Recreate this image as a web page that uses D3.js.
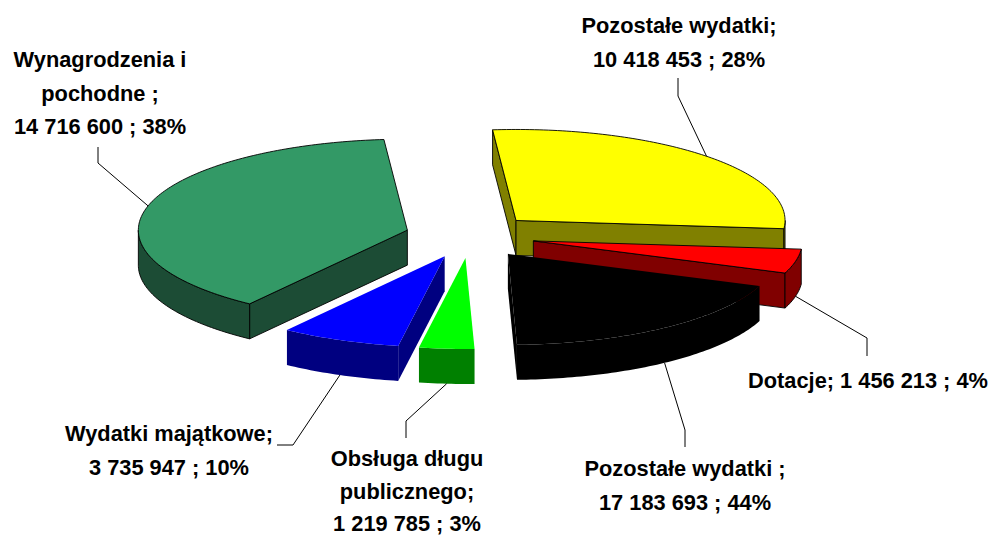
<!DOCTYPE html>
<html>
<head>
<meta charset="utf-8">
<script src="https://cdn.jsdelivr.net/npm/d3@7"></script>
<style>
body {margin:0; background:#fff;}
text {font-family:"Liberation Sans", Arial, sans-serif; font-weight:bold; font-size:21.8px; fill:#000;}
</style>
</head>
<body>
<svg id="chart"></svg>
<script>
var screen = {width:991, height:537};

// data
var categories = [["Pozostałe wydatki;"], ["Dotacje;"], ["Pozostałe wydatki ;"], ["Obsługa długu", "publicznego;"], ["Wydatki majątkowe;"], ["Wynagrodzenia i", "pochodne ;"]];
var amounts = [10418453, 1456213, 17183693, 1219785, 3735947, 14716600];
var percents = [28, 4, 44, 3, 10, 38];
// how big each slice is drawn, % of the full circle
var sliceShares = [27.8, 4.3, 18.7, 3.3, 7.2, 38.6];
var topColors = ["#ffff00", "#ff0000", "#000000", "#00ff00", "#0000ff", "#339966"];
var sideColors = ["#808000", "#800000", "#000000", "#008000", "#000080", "#1c4c35"];
var outlined = [true, true, false, false, false, true];

// 3d pie geometry
var pie3d = {cx:470, cy:236, rx:269, ry:91, depth:35, explode:65, start:-5};

// label placement: centre x, first baseline, line step, leader elbow + end
var labelSpots = [
    {x:679, y:33, step:33.5, inline:false, leader:[[678,96],[678,78]]},
    {x:868, y:388, step:33.5, inline:true, leader:[[867,338],[867,356]]},
    {x:685, y:476, step:33.5, inline:false, leader:[[685,430],[685,447]]},
    {x:407, y:466, step:32.5, inline:false, leader:[[406,421],[406,438]]},
    {x:169, y:441, step:33.5, inline:false, leader:[[293,445],[277,445]]},
    {x:100, y:67, step:33.5, inline:false, leader:[[98,163],[98,147]]}
];

var plFormat = d3.formatLocale({decimal:",", thousands:" ", grouping:[3], currency:["", ""]}).format(",d");
var toRad = d3.scaleLinear().domain([0, 360]).range([0, 2 * Math.PI]);

var rim = function(ox, oy, a, drop)
    {
        return [ox + pie3d.rx * Math.sin(a), oy - pie3d.ry * Math.cos(a) + drop];
    };

var arcPoints = function(ox, oy, a0, a1, drop)
    {
        var n = Math.max(2, Math.ceil(Math.abs(a1 - a0) / toRad(1)));
        return d3.range(n + 1).map(function(k)
            {
                return rim(ox, oy, a0 + (a1 - a0) * k / n, drop);
            });
    };

var setup = function()
    {
        var svg = d3.select("#chart")
            .attr("width", screen.width)
            .attr("height", screen.height);

        var pie = d3.pie()
            .sort(null)
            .startAngle(toRad(pie3d.start))
            .endAngle(toRad(pie3d.start + 360));

        var line = d3.line();

        var slices = pie(sliceShares).map(function(d, i)
            {
                var mid = (d.startAngle + d.endAngle) / 2;
                d.index = i;
                d.mid = mid;
                d.ax = pie3d.cx + pie3d.explode * Math.sin(mid);
                d.ay = pie3d.cy - pie3d.explode * Math.cos(mid) * pie3d.ry / pie3d.rx;
                return d;
            });

        // back slices first
        var order = slices.slice().sort(function(a, b) { return a.ay - b.ay; });

        var g = svg.append("g").attr("id", "pie");

        order.forEach(function(d)
            {
                var i = d.index;
                var s = d.startAngle, e = d.endAngle, dep = pie3d.depth;
                var sg = g.append("g")
                    .attr("stroke", outlined[i] ? "#000" : "none")
                    .attr("stroke-width", 0.9)
                    .attr("stroke-linejoin", "round");

                var radial = function(a)
                    {
                        var p = rim(d.ax, d.ay, a, 0), q = rim(d.ax, d.ay, a, dep);
                        return line([[d.ax, d.ay], p, q, [d.ax, d.ay + dep]]) + "Z";
                    };

                if (Math.sin(s) < 0)
                    sg.append("path").attr("d", radial(s)).attr("fill", sideColors[i]);
                if (Math.sin(e) > 0)
                    sg.append("path").attr("d", radial(e)).attr("fill", sideColors[i]);

                // front part of the outer wall
                var a0 = Math.max(s, Math.PI / 2), a1 = Math.min(e, 3 * Math.PI / 2);
                if (a1 > a0)
                    {
                        var wall = arcPoints(d.ax, d.ay, a0, a1, 0)
                            .concat(arcPoints(d.ax, d.ay, a1, a0, dep));
                        sg.append("path").attr("d", line(wall) + "Z").attr("fill", sideColors[i]);
                    }

                var top = [[d.ax, d.ay]].concat(arcPoints(d.ax, d.ay, s, e, 0));
                sg.append("path").attr("d", line(top) + "Z").attr("fill", topColors[i]);
            });

        drawLabels(svg, slices);
    };

var drawLabels = function(svg, slices)
    {
        var lg = svg.append("g").attr("id", "labels");

        slices.forEach(function(d)
            {
                var i = d.index;
                var spot = labelSpots[i];
                var front = Math.cos(d.mid) < 0;
                var from = rim(d.ax, d.ay, d.mid, front ? pie3d.depth : 0);

                lg.append("path")
                    .attr("d", d3.line()([from].concat(spot.leader)))
                    .attr("fill", "none")
                    .attr("stroke", "#000")
                    .attr("stroke-width", 1);

                var amountText = plFormat(amounts[i]) + " ; " + percents[i] + "%";
                var lines = spot.inline
                    ? [categories[i].join(" ") + " " + amountText]
                    : categories[i].concat([amountText]);

                lg.append("text")
                    .attr("text-anchor", "middle")
                    .selectAll("tspan")
                    .data(lines)
                    .enter()
                    .append("tspan")
                    .attr("x", spot.x)
                    .attr("y", function(t, k) { return spot.y + k * spot.step; })
                    .text(function(t) { return t; });
            });
    };

setup();
</script>
</body>
</html>
